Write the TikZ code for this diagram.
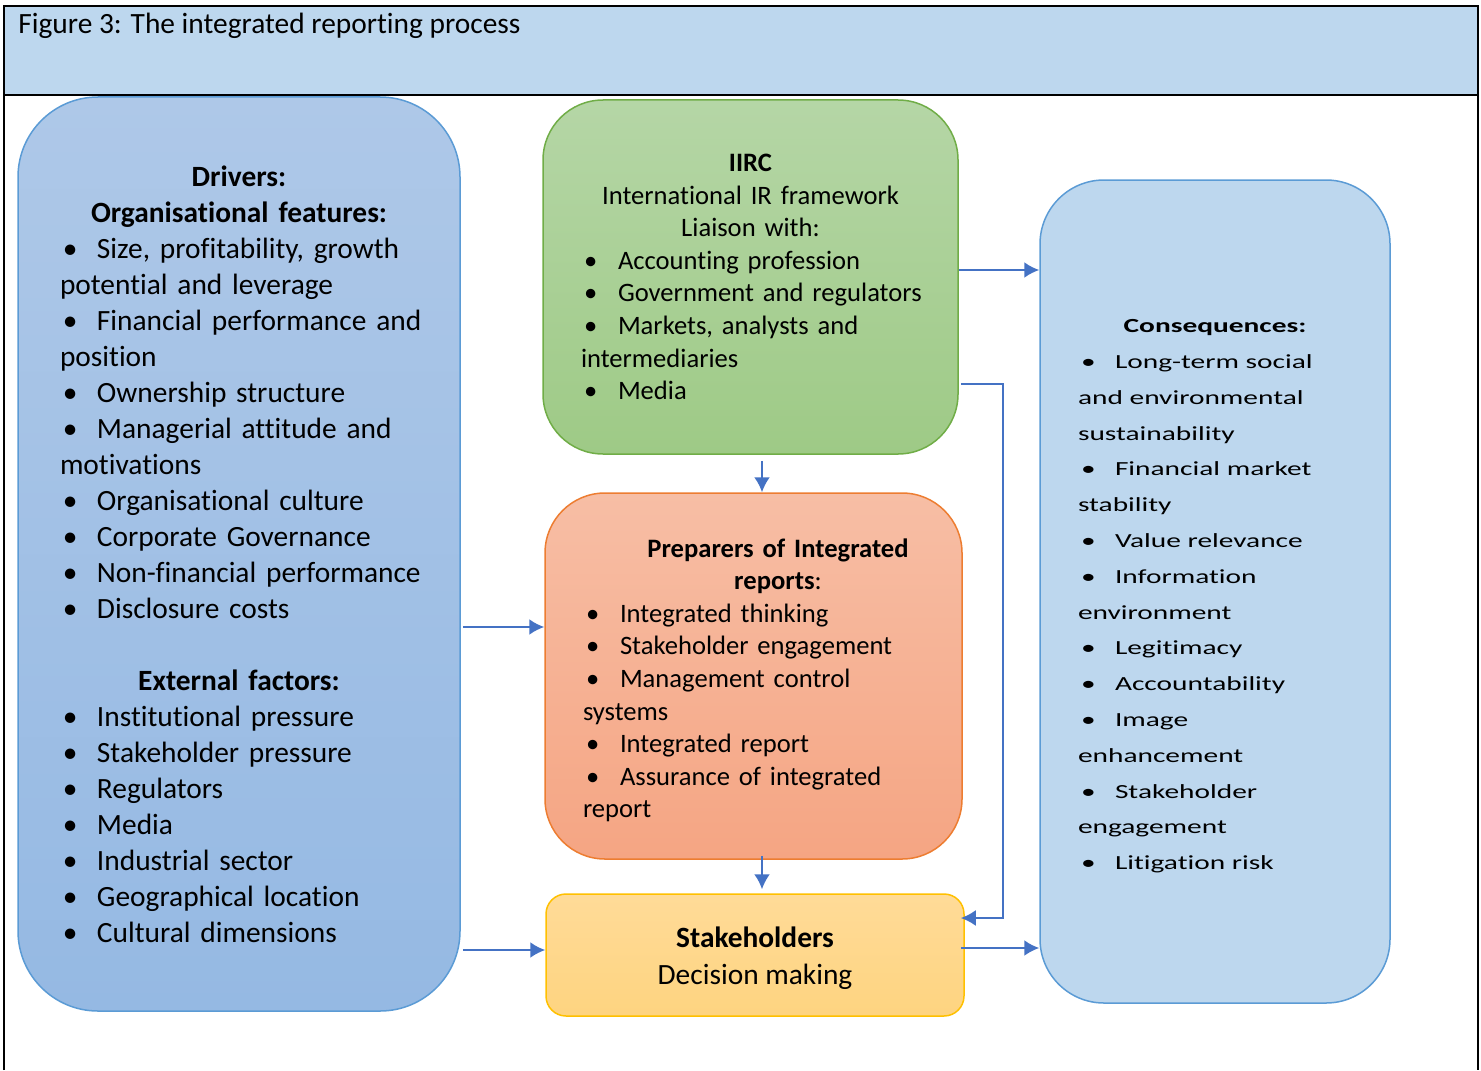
\documentclass[tikz,border=0pt]{standalone}
\usepackage{fontspec}
\setmainfont{Carlito}[Ligatures=NoCommon]
\newfontfamily\wideface[FakeStretch=1.47,Ligatures=NoCommon]{Carlito}
\usepackage{xcolor}
\usepackage{tikz}
\usetikzlibrary{positioning}
\usetikzlibrary{arrows.meta}

\definecolor{headbg}{HTML}{BDD7EE}
\definecolor{edgeblue}{HTML}{5B9BD5}
\definecolor{arrowblue}{HTML}{4472C4}
\definecolor{edgegreen}{HTML}{70AD47}
\definecolor{edgeorange}{HTML}{ED7D31}
\definecolor{edgegold}{HTML}{FFC000}

\newcommand{\itm}[1]{\hspace*{1.5pt}\makebox[17pt][l]{\textbullet}\mbox{#1}}
\newcommand{\hd}[2][0pt]{\hspace*{#1}\makebox[\dimexpr\hsize-#1\relax][c]{#2}}

\tikzset{
  frame/.style={black, line width=1.3pt},
  boxbase/.style={rectangle, line width=0.75pt, inner sep=0pt, align=left},
  drvbox/.style={boxbase, draw=edgeblue, top color={rgb,255:red,174;green,200;blue,232},
    bottom color={rgb,255:red,149;green,185;blue,227}, rounded corners=40pt,
    minimum width=221pt, minimum height=457pt, text width=179pt,
    font=\fontsize{14.7}{18}\selectfont},
  iircbox/.style={boxbase, draw=edgegreen, top color={rgb,255:red,181;green,214;blue,166},
    bottom color={rgb,255:red,158;green,202;blue,134}, rounded corners=30pt,
    minimum width=207.5pt, minimum height=177pt, text width=169.5pt,
    font=\fontsize{13.3}{16.3}\selectfont},
  prepbox/.style={boxbase, draw=edgeorange, top color={rgb,255:red,247;green,190;blue,165},
    bottom color={rgb,255:red,245;green,165;blue,131}, rounded corners=30pt,
    minimum width=208.5pt, minimum height=183pt, text width=170.5pt,
    font=\fontsize{13.3}{16.3}\selectfont},
  stakebox/.style={boxbase, draw=edgegold, top color={rgb,255:red,255;green,219;blue,152},
    bottom color={rgb,255:red,254;green,212;blue,128}, rounded corners=10pt,
    minimum width=209pt, minimum height=61pt, align=center,
    font=\fontsize{14.7}{18.5}\selectfont},
  consbox/.style={boxbase, draw=edgeblue, fill=headbg, rounded corners=32pt,
    minimum width=175pt, minimum height=411.5pt, text width=137pt,
    font=\wideface\fontsize{10}{17.9}\selectfont},
  flow/.style={arrowblue, line width=1.1pt, -{Latex[length=7.5pt,width=8pt]}}
}

\begin{document}
\begin{tikzpicture}[x=0.5pt,y=-0.5pt]
\useasboundingbox (0,0) rectangle (1481,1070);

% Draw frame and heading
\fill[headbg] (4,6) rectangle (1478,95);
\draw[frame] (4,1070) -- (4,6) -- (1478,6) -- (1478,1070);
\draw[frame] (4,95) -- (1478,95);
\node[anchor=base west, inner sep=0pt, font=\fontsize{14.7}{18}\selectfont] (title) at (18,34)
  {Figure 3: The integrated reporting process};

% Draw boxes
\node[drvbox] (drv) at (239,554) {%
  \hd{\bfseries Drivers:}\\
  \hd{\bfseries Organisational features:}\\
  \itm{Size, profitability, growth}\\
  potential and leverage\\
  \itm{Financial performance and}\\
  position\\
  \itm{Ownership structure}\\
  \itm{Managerial attitude and}\\
  motivations\\
  \itm{Organisational culture}\\
  \itm{Corporate Governance}\\
  \itm{Non-financial performance}\\
  \itm{Disclosure costs}\\
  \mbox{}\\
  \hd{\bfseries External factors:}\\
  \itm{Institutional pressure}\\
  \itm{Stakeholder pressure}\\
  \itm{Regulators}\\
  \itm{Media}\\
  \itm{Industrial sector}\\
  \itm{Geographical location}\\
  \itm{Cultural dimensions}};

\node[iircbox] (iirc) at (750.5,277) {%
  \hd{\bfseries IIRC}\\
  \hd{International IR framework}\\
  \hd{Liaison with:}\\
  \itm{Accounting profession}\\
  \itm{Government and regulators}\\
  \itm{Markets, analysts and}\\
  intermediaries\\
  \itm{Media}};

\node[prepbox] (prep) at (753.5,676) {%
  \rule{0pt}{13.6pt}\hd[24.5pt]{\bfseries Preparers of Integrated}\\
  \hd[24.5pt]{\textbf{reports}:}\\
  \itm{Integrated thinking}\\
  \itm{Stakeholder engagement}\\
  \itm{Management control}\\
  systems\\
  \itm{Integrated report}\\
  \itm{Assurance of integrated}\\
  report};

\node[stakebox] (stake) at (755,955) {\rule{0pt}{13.5pt}\textbf{Stakeholders}\\Decision making};

\node[consbox] (cons) at (1215,591.5) {%
  \rule{0pt}{11.5pt}\hd{\bfseries Consequences:}\\
  \itm{Long-term social}\\
  and environmental\\
  sustainability\\
  \itm{Financial market}\\
  stability\\
  \itm{Value relevance}\\
  \itm{Information}\\
  environment\\
  \itm{Legitimacy}\\
  \itm{Accountability}\\
  \itm{Image}\\
  enhancement\\
  \itm{Stakeholder}\\
  engagement\\
  \itm{Litigation risk}};

% Draw arrows
\coordinate (bend) at (1003,918);
\draw[flow] (iirc.east |- 0,270) -- (cons.west |- 0,270);
\draw[flow] ([xshift=1pt]iirc.east |- 0,384) -| (bend) -- ([xshift=-2pt]stake.east |- bend);
\draw[flow, shorten <=3pt] (762,0 |- iirc.south) -- (762,0 |- prep.north);
\draw[flow] ([xshift=1pt]drv.east |- 0,627) -- (prep.west |- 0,627);
\draw[flow] ([xshift=1pt]drv.east |- 0,950) -- (stake.west |- 0,950);
\draw[flow, shorten <=-2pt] (762,0 |- prep.south) -- ([yshift=2pt]762,0 |- stake.north);
\draw[flow] ([xshift=-2pt]stake.east |- 0,948) -- (cons.west |- 0,948);

\end{tikzpicture}
\end{document}
